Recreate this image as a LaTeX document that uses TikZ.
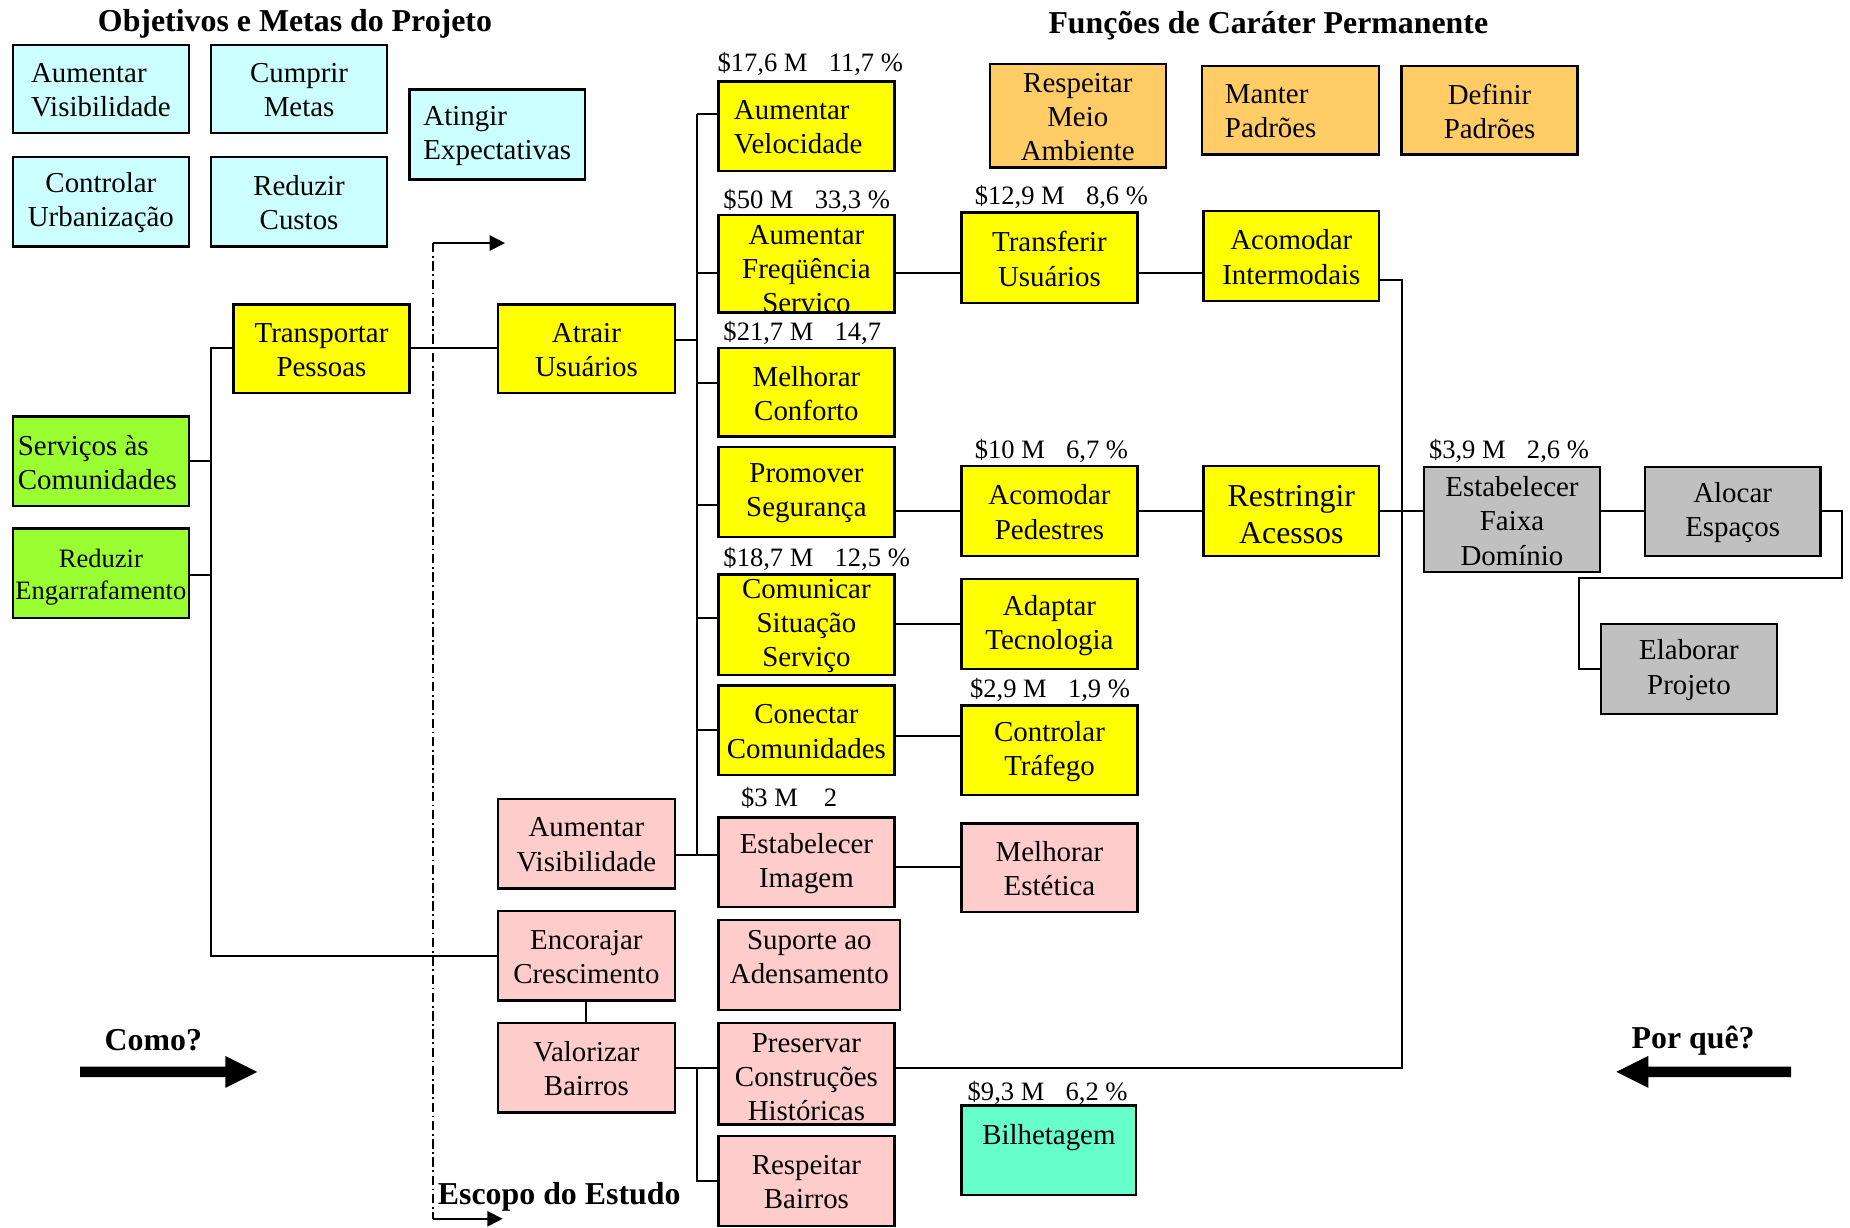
\documentclass[tikz,border=0pt]{standalone}
\usepackage{fontspec}
\setmainfont{Liberation Serif}
\usetikzlibrary{arrows.meta}

\definecolor{cyanbox}{HTML}{CCFFFF}
\definecolor{orangebox}{HTML}{FFCC66}
\definecolor{yellowbox}{HTML}{FFFF00}
\definecolor{greenbox}{HTML}{99FF33}
\definecolor{pinkbox}{HTML}{FFCCCC}
\definecolor{graybox}{HTML}{C0C0C0}
\definecolor{tealbox}{HTML}{66FFCC}

\tikzset{
  boxfill/.style={rectangle, draw=none, inner sep=0pt, outer sep=0pt},
  boxline/.style={draw=black, line width=2pt},
  boxtext/.style={inner sep=0pt, align=center, yshift=-1pt, font=\fontsize{24.5}{29}\selectfont},
  cost/.style={inner sep=0pt, anchor=west, font=\fontsize{22.5}{26}\selectfont},
  heading/.style={inner sep=0pt, font=\fontsize{27}{32}\selectfont\bfseries},
  conn/.style={draw=black, line width=1.7pt},
  scopeline/.style={draw=black, line width=1.3pt, dash pattern=on 8pt off 3pt on 1.5pt off 3pt},
  scopearrow/.style={draw=black, line width=1.5pt, -{Triangle[length=13pt,width=13pt]}},
  bigarrow/.style={fill=black, draw=none},
}

% box: name, x1, y1, x2, y2, fill colour, text options, text
\newcommand\boxitem[8]{%
  \node[boxfill, fill=#6, minimum width={(#4)-(#2)}, minimum height={(#5)-(#3)}] (#1) at ({((#2)+(#4))/2},{((#3)+(#5))/2}) {};
  \begin{scope}
    \clip (#1.south west) rectangle (#1.north east);
    \node[boxtext, #7] (#1-t) at (#1.center) {#8};
  \end{scope}
  \draw[boxline] (#1.south west) rectangle (#1.north east);
}

\begin{document}
\begin{tikzpicture}[x=1pt,y=-1pt]
\useasboundingbox (0,0) rectangle (1568,1040);
\fill[white] (0,0) rectangle (1568,1040);

% headings
\node[heading] (h1) at (250,20) {Objetivos e Metas do Projeto};
\node[heading] (h2) at (1075,22) {Funções de Caráter Permanente};

% project objectives
\boxitem{obA}{11}{38}{160}{113}{cyanbox}{align=left}{Aumentar\\Visibilidade}
\boxitem{obB}{179}{38}{328}{113}{cyanbox}{}{Cumprir\\Metas}
\boxitem{obC}{11}{133}{160}{209}{cyanbox}{}{Controlar\\Urbanização}
\boxitem{obD}{179}{133}{328}{209}{cyanbox}{}{Reduzir\\Custos}
\boxitem{obE}{347}{76}{496}{152}{cyanbox}{align=left}{Atingir\\Expectativas}

% permanent functions
\boxitem{pmA}{839}{54}{988}{142}{orangebox}{}{Respeitar\\Meio\\Ambiente}
\boxitem{pmB}{1019}{56}{1169}{131}{orangebox}{align=left, xshift=-17pt}{Manter\\Padrões}
\boxitem{pmC}{1188}{56}{1337}{131}{orangebox}{}{Definir\\Padrões}

% higher-order functions
\boxitem{serv}{11}{353}{160}{429}{greenbox}{align=left, xshift=-3pt}{Serviços às\\Comunidades}
\boxitem{reng}{11}{448}{160}{524}{greenbox}{font=\fontsize{22.5}{27}\selectfont, yshift=-2pt}{Reduzir\\Engarrafamento}

% basic functions
\boxitem{transp}{198}{258}{347}{333}{yellowbox}{}{Transportar\\Pessoas}
\boxitem{atrair}{422}{258}{572}{333}{yellowbox}{}{Atrair\\Usuários}
\boxitem{vel}{609}{69}{758}{145}{yellowbox}{align=left, xshift=-7pt}{Aumentar\\Velocidade}
\boxitem{freq}{609}{182}{758}{265}{yellowbox}{yshift=-6pt}{Aumentar\\Freqüência\\Serviço}
\boxitem{conf}{609}{295}{758}{370}{yellowbox}{}{Melhorar\\Conforto}
\boxitem{seg}{609}{379}{758}{455}{yellowbox}{}{Promover\\Segurança}
\boxitem{comun}{609}{487}{758}{572}{yellowbox}{}{Comunicar\\Situação\\Serviço}
\boxitem{conect}{609}{581}{758}{657}{yellowbox}{}{Conectar\\Comunidades}
\boxitem{transf}{815}{180}{964}{257}{yellowbox}{}{Transferir\\Usuários}
\boxitem{interm}{1020}{179}{1169}{255}{yellowbox}{}{Acomodar\\Intermodais}
\boxitem{ped}{815}{395}{964}{471}{yellowbox}{}{Acomodar\\Pedestres}
\boxitem{restr}{1020}{395}{1169}{471}{yellowbox}{font=\fontsize{27}{31}\selectfont, yshift=-2pt}{Restringir\\Acessos}
\boxitem{adapt}{815}{491}{964}{567}{yellowbox}{}{Adaptar\\Tecnologia}
\boxitem{traf}{815}{598}{964}{674}{yellowbox}{}{Controlar\\Tráfego}

% right of way
\boxitem{faixa}{1207}{396}{1356}{485}{graybox}{}{Estabelecer\\Faixa\\Domínio}
\boxitem{aloc}{1394}{396}{1543}{471}{graybox}{}{Alocar\\Espaços}
\boxitem{elab}{1357}{529}{1506}{605}{graybox}{}{Elaborar\\Projeto}

% urban functions
\boxitem{visib}{422}{677}{572}{753}{pinkbox}{}{Aumentar\\Visibilidade}
\boxitem{encor}{422}{772}{572}{848}{pinkbox}{}{Encorajar\\Crescimento}
\boxitem{valor}{422}{867}{572}{943}{pinkbox}{}{Valorizar\\Bairros}
\boxitem{img}{609}{693}{758}{769}{pinkbox}{}{Estabelecer\\Imagem}
\boxitem{adens}{609}{780}{763}{856}{pinkbox}{yshift=8pt}{Suporte ao\\Adensamento}
\boxitem{hist}{609}{867}{758}{953}{pinkbox}{yshift=-2pt}{Preservar\\Construções\\Históricas}
\boxitem{respb}{609}{963}{758}{1039}{pinkbox}{}{Respeitar\\Bairros}
\boxitem{estet}{815}{698}{964}{773}{pinkbox}{}{Melhorar\\Estética}

\boxitem{bilh}{815}{937}{963}{1013}{tealbox}{yshift=12pt}{Bilhetagem}

% cost labels
\node[cost] (c1) at (608,54) {\$17,6 M\hspace{18pt}11,7 \%};
\node[cost] (c2) at (613,170) {\$50 M\hspace{18pt}33,3 \%};
\node[cost] (c3) at (826,167) {\$12,9 M\hspace{18pt}8,6 \%};
\node[cost] (c4) at (613,282) {\$21,7 M\hspace{18pt}14,7};
\node[cost] (c5) at (826,382) {\$10 M\hspace{18pt}6,7 \%};
\node[cost] (c6) at (1211,382) {\$3,9 M\hspace{18pt}2,6 \%};
\node[cost] (c7) at (613,474) {\$18,7 M\hspace{18pt}12,5 \%};
\node[cost] (c8) at (822,585) {\$2,9 M\hspace{18pt}1,9 \%};
\node[cost] (c9) at (628,676) {\$3 M\hspace{22pt}2};
\node[cost] (c10) at (820,926) {\$9,3 M\hspace{18pt}6,2 \%};

% left trunk
\coordinate (lt) at (179,295);
\coordinate (lb) at (179,810);
\draw[conn] (transp.west |- lt) -- (lt) -- (lb) -- (encor.west |- lb);
\draw[conn] (serv.east |- 0,391) -- (lt |- 0,391);
\draw[conn] (reng.east |- 0,487) -- (lt |- 0,487);
\draw[conn] (transp.east |- 0,295) -- (atrair.west |- 0,295);

% middle trunk
\coordinate (mt) at (591,97);
\coordinate (mb) at (591,725);
\draw[conn] (mt) -- (mb);
\draw[conn] (atrair.east |- 0,288) -- (mt |- 0,288);
\draw[conn] (mt) -- (vel.west |- mt);
\draw[conn] (mt |- 0,231) -- (freq.west |- 0,231);
\draw[conn] (mt |- 0,325) -- (conf.west |- 0,325);
\draw[conn] (mt |- 0,428) -- (seg.west |- 0,428);
\draw[conn] (mt |- 0,524) -- (comun.west |- 0,524);
\draw[conn] (mt |- 0,619) -- (conect.west |- 0,619);
\draw[conn] (visib.east |- mb) -- (img.west |- mb);

% horizontal chains
\draw[conn] (freq.east |- 0,231) -- (transf.west |- 0,231);
\draw[conn] (transf.east |- 0,231) -- (interm.west |- 0,231);
\draw[conn] (seg.east |- 0,433) -- (ped.west |- 0,433);
\draw[conn] (ped.east |- 0,433) -- (restr.west |- 0,433);
\draw[conn] (restr.east |- 0,433) -- (faixa.west |- 0,433);
\draw[conn] (faixa.east |- 0,433) -- (aloc.west |- 0,433);
\draw[conn] (comun.east |- 0,529) -- (adapt.west |- 0,529);
\draw[conn] (conect.east |- 0,624) -- (traf.west |- 0,624);
\draw[conn] (img.east |- 0,735) -- (estet.west |- 0,735);

% right-of-way loop
\coordinate (a1) at (1561,433);
\coordinate (a2) at (1561,490);
\coordinate (a3) at (1338,490);
\coordinate (a4) at (1338,567);
\draw[conn] (aloc.east |- a1) -- (a1) -- (a2) -- (a3) -- (a4) -- (elab.west |- a4);

% intermodal link down to the heritage box
\coordinate (rt) at (1188,237);
\coordinate (rb) at (1188,905);
\draw[conn] (interm.east |- rt) -- (rt) -- (rb) -- (hist.east |- rb);

% neighbourhood branch
\draw[conn] (encor.south) -- (valor.north);
\coordinate (vt) at (591,905);
\coordinate (vb) at (591,1001);
\draw[conn] (valor.east |- vt) -- (hist.west |- vt);
\draw[conn] (vt) -- (vb) -- (respb.west |- vb);

% scope of study
\coordinate (sTop) at (367,206);
\coordinate (sBot) at (367,1033);
\coordinate (sTopEnd) at (428,206);
\coordinate (sBotEnd) at (426,1033);
\draw[scopeline] (sTop) -- (sBot);
\draw[scopearrow] (sTop) -- (sTopEnd);
\draw[scopearrow] (sBot) -- (sBotEnd);
\node[heading, anchor=west] (escopo) at (371,1014) {Escopo do Estudo};

% how / why arrows
\node[heading] (como) at (130,882) {Como?};
\node[heading] (porque) at (1435,882) {Por quê?};
\fill[bigarrow] (68,904) -- (191,904) -- (191,895) -- (218,908.5) -- (191,922) -- (191,913) -- (68,913) -- cycle;
\fill[bigarrow] (1518,904) -- (1397,904) -- (1397,895) -- (1370,908.5) -- (1397,922) -- (1397,913) -- (1518,913) -- cycle;

\end{tikzpicture}
\end{document}
